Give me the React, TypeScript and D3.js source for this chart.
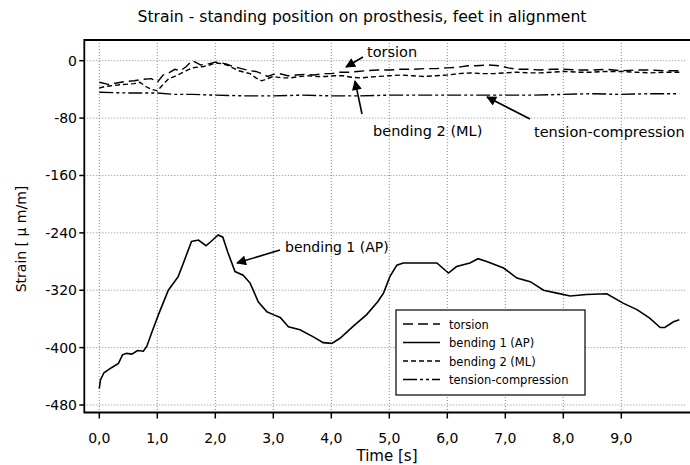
import React from "react";
import * as d3 from "d3";

const title = "Strain - standing position on prosthesis, feet in alignment";
const xTicks = [0, 1, 2, 3, 4, 5, 6, 7, 8, 9];
const yTicks = [0, -80, -160, -240, -320, -400, -480];

const bending1: [number, number][] = [
  [0, -457], [0.02, -445], [0.08, -435], [0.21, -428], [0.33, -422], [0.4, -410], [0.47, -408],
  [0.56, -409], [0.66, -404], [0.76, -405], [0.82, -398], [0.9, -380], [1.02, -354], [1.19, -320],
  [1.36, -301], [1.45, -282], [1.59, -252], [1.71, -250], [1.84, -258], [1.94, -251], [2.05, -243],
  [2.13, -246], [2.22, -268], [2.34, -294], [2.48, -299], [2.6, -310], [2.74, -336], [2.89, -350],
  [3.0, -354], [3.12, -358], [3.26, -371], [3.46, -375], [3.69, -385], [3.86, -393], [4.01, -394],
  [4.15, -387], [4.38, -370], [4.61, -354], [4.8, -336], [4.9, -324], [5.01, -301], [5.13, -285],
  [5.24, -282], [5.53, -282], [5.82, -282], [6.02, -296], [6.16, -287], [6.39, -282], [6.53, -276],
  [6.68, -280], [6.97, -289], [7.2, -303], [7.43, -308], [7.66, -320], [7.89, -324], [8.12, -328],
  [8.4, -326], [8.75, -325], [9.03, -338], [9.27, -347], [9.49, -359], [9.67, -372], [9.75, -372],
  [9.9, -364], [10.0, -361],
];

const torsion: [number, number][] = [
  [0, -30], [0.15, -33], [0.3, -31], [0.45, -29], [0.6, -28], [0.75, -26], [0.9, -25], [1.0, -30],
  [1.1, -20], [1.2, -17], [1.3, -12], [1.4, -14], [1.5, -8], [1.6, 0], [1.68, -3], [1.75, -6],
  [1.9, -4], [2.0, -2], [2.1, -3], [2.2, -5], [2.3, -8], [2.4, -10], [2.5, -12], [2.6, -14],
  [2.7, -15], [2.8, -18], [2.9, -22], [3.0, -19], [3.1, -18], [3.25, -21], [3.4, -20], [3.55, -19],
  [3.7, -20], [3.85, -18], [4.0, -18], [4.15, -16], [4.3, -16], [4.45, -15], [4.6, -14], [4.8, -13],
  [5.0, -13], [5.2, -12], [5.4, -12], [5.6, -11], [5.8, -11], [6.0, -10], [6.2, -9], [6.35, -7],
  [6.5, -7], [6.7, -6], [6.9, -7], [7.05, -10], [7.2, -12], [7.4, -12], [7.6, -13], [7.8, -12],
  [8.0, -12], [8.25, -13], [8.5, -13], [8.75, -12], [9.0, -14], [9.25, -13], [9.5, -13],
  [9.75, -14], [10.0, -14],
];

const bending2: [number, number][] = [
  [0, -38], [0.1, -36], [0.2, -35], [0.3, -34], [0.45, -33], [0.6, -32], [0.7, -30], [0.8, -36],
  [0.9, -40], [1.0, -42], [1.1, -33], [1.2, -25], [1.3, -22], [1.4, -18], [1.5, -14], [1.6, -10],
  [1.7, -9], [1.8, -8], [1.9, -6], [2.0, -3], [2.1, -4], [2.2, -6], [2.3, -10], [2.4, -14],
  [2.5, -16], [2.6, -18], [2.7, -24], [2.8, -28], [2.9, -25], [3.0, -22], [3.15, -24], [3.3, -24],
  [3.45, -22], [3.6, -21], [3.75, -22], [3.9, -22], [4.05, -21], [4.2, -21], [4.35, -23], [4.5, -24],
  [4.65, -23], [4.8, -22], [5.0, -21], [5.2, -20], [5.4, -21], [5.6, -22], [5.8, -21], [6.0, -20],
  [6.2, -18], [6.4, -17], [6.6, -18], [6.8, -18], [7.0, -17], [7.2, -16], [7.4, -17], [7.6, -17],
  [7.8, -16], [8.0, -15], [8.25, -16], [8.5, -16], [8.75, -15], [9.0, -15], [9.25, -16], [9.5, -17],
  [9.75, -16], [10.0, -16],
];

const tension: [number, number][] = [
  [0, -44], [0.5, -45], [1.0, -45], [1.3, -47], [1.6, -47], [2.0, -48], [2.5, -49], [3.0, -49],
  [3.5, -48], [4.0, -49], [4.5, -49], [5.0, -48], [5.5, -48], [6.0, -48], [6.5, -48], [7.0, -48],
  [7.5, -48], [8.0, -47], [8.5, -46], [9.0, -47], [9.5, -46], [10.0, -46],
];

const legendItems = ["torsion", "bending 1 (AP)", "bending 2 (ML)", "tension-compression"];
const dashes = ["10,5", "", "5,3", "14,3,3,3,3,3"];

const FONT = "'DejaVu Sans', Verdana, sans-serif";

export default function App() {
  const x = d3.scaleLinear().domain([0, 9]).range([99.3, 621.3]);
  const y = d3.scaleLinear().domain([0, -480]).range([60.7, 405]);
  const left = 84.3, right = 690, top = 40, bottom = 412.5;
  const line = d3.line<[number, number]>().x((d) => x(d[0])).y((d) => y(d[1]));
  const series = [torsion, bending1, bending2, tension];

  const arrows = [
    { text: "torsion", tx: 367, ty: 57, x1: 363, y1: 57, x2: 346, y2: 67, fs: 14.5 },
    { text: "bending 2 (ML)", tx: 373, ty: 136, x1: 362, y1: 114, x2: 355, y2: 81, fs: 14.5 },
    { text: "tension-compression", tx: 534, ty: 137, x1: 530, y1: 119, x2: 487, y2: 97, fs: 14.5 },
    { text: "bending 1 (AP)", tx: 285, ty: 252, x1: 280, y1: 250, x2: 237, y2: 263, fs: 14 },
  ];

  return (
    <svg width={690} height={465} style={{ position: "absolute", left: 0, top: 0 }} fontFamily={FONT}>
      <rect width={690} height={465} fill="white" />
      <defs>
        <marker id="ah" viewBox="0 0 10 10" refX="9" refY="5" markerWidth="12" markerHeight="10" markerUnits="userSpaceOnUse" orient="auto">
          <path d="M0,0 L10,5 L0,10 z" fill="black" />
        </marker>
      </defs>
      <text x={362} y={22} textAnchor="middle" fontSize={15.6}>{title}</text>
      {/* grid */}
      {xTicks.map((t) => (
        <line key={"gx" + t} x1={x(t)} x2={x(t)} y1={top} y2={bottom} stroke="#888" strokeDasharray="1,2" />
      ))}
      {yTicks.map((t) => (
        <line key={"gy" + t} x1={left} x2={686} y1={y(t)} y2={y(t)} stroke="#888" strokeDasharray="1,2" />
      ))}
      {/* frame */}
      <path d={`M${right},${top}H${left}V${bottom}H${right}`} fill="none" stroke="black" strokeWidth={1.8} />
      {xTicks.map((t) => (
        <g key={"tx" + t}>
          <line x1={x(t)} x2={x(t)} y1={bottom} y2={bottom + 6} stroke="black" strokeWidth={1.5} />
          <text x={x(t)} y={443} textAnchor="middle" fontSize={14}>{t.toFixed(1).replace(".", ",")}</text>
        </g>
      ))}
      {yTicks.map((t) => (
        <g key={"ty" + t}>
          <line x1={left - 5} x2={left} y1={y(t)} y2={y(t)} stroke="black" strokeWidth={1.5} />
          <text x={77} y={y(t) + 5} textAnchor="end" fontSize={14}>{t}</text>
        </g>
      ))}
      <text x={387} y={461} textAnchor="middle" fontSize={15}>Time [s]</text>
      <text transform="translate(26,239) rotate(-90)" textAnchor="middle" fontSize={14}>Strain [ μ m/m]</text>
      {/* series */}
      {series.map((s, i) => (
        <path key={"s" + i} d={line(s) || ""} fill="none" stroke="black" strokeWidth={i === 1 ? 1.6 : 1.4} strokeDasharray={dashes[i] || undefined} />
      ))}
      {/* annotations */}
      {arrows.map((a) => (
        <g key={a.text}>
          <line x1={a.x1} y1={a.y1} x2={a.x2} y2={a.y2} stroke="black" strokeWidth={1.6} markerEnd="url(#ah)" />
          <text x={a.tx} y={a.ty} fontSize={a.fs}>{a.text}</text>
        </g>
      ))}
      {/* legend */}
      <rect x={396} y={310} width={189} height={85} fill="white" stroke="black" strokeWidth={1.2} />
      {legendItems.map((l, i) => (
        <g key={l}>
          <line x1={403} x2={440} y1={324 + i * 18.5} y2={324 + i * 18.5} stroke="black" strokeWidth={1.4} strokeDasharray={dashes[i] || undefined} />
          <text x={449} y={328.5 + i * 18.5} fontSize={11.5}>{l}</text>
        </g>
      ))}
    </svg>
  );
}
